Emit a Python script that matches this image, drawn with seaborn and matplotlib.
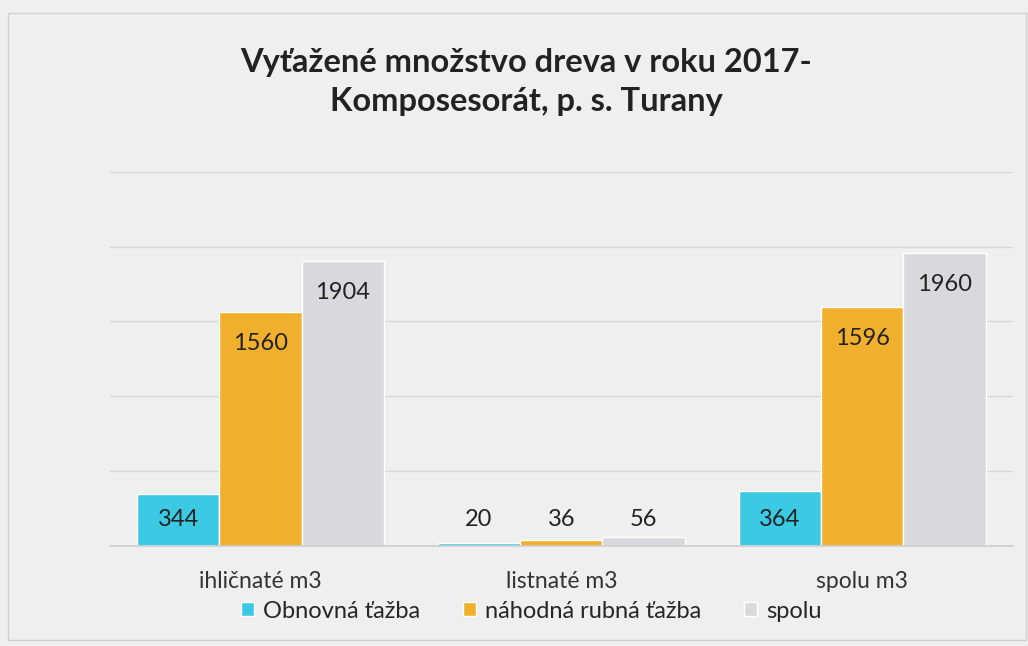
import pandas as pd
import matplotlib.pyplot as plt
import seaborn as sns

# údaje z grafu
kategorie = ['ihličnaté m3', 'listnaté m3', 'spolu m3']
obnovna = [344, 20, 364]
nahodna = [1560, 36, 1596]
spolu = [1904, 56, 1960]
serie = ['Obnovná ťažba', 'náhodná rubná ťažba', 'spolu']

df = pd.DataFrame({
    'kategoria': kategorie * 3,
    'seria': [serie[0]] * 3 + [serie[1]] * 3 + [serie[2]] * 3,
    'hodnota': obnovna + nahodna + spolu,
})

farby = ['#3cc9e4', '#f0b02e', '#d9d9dd']
bg = '#efefef'

sns.set_theme(style='white')
plt.rcParams['font.family'] = ['Lato', 'DejaVu Sans']

fig = plt.figure(figsize=(10.28, 6.46), dpi=100, facecolor=bg)
ax = fig.add_axes([0.107, 0.155, 0.878, 0.579])
ax.set_facecolor(bg)

sns.barplot(data=df, x='kategoria', y='hodnota', hue='seria', palette=farby,
            width=0.82, gap=0.0, ax=ax, saturation=1)

ax.set_ylim(0, 2500)
ax.set_yticks(range(0, 2501, 500))
ax.yaxis.grid(True, color='#d6d6d6', linewidth=1)
ax.set_axisbelow(True)
ax.tick_params(axis='y', left=False, labelleft=False)
ax.tick_params(axis='x', bottom=False, labelsize=16.5, pad=12, colors='#333333')
for s in ['top', 'right', 'left']:
    ax.spines[s].set_visible(False)
ax.spines['bottom'].set_color('#cfcfcf')
ax.set_xlabel('')
ax.set_ylabel('')

# popisky hodnôt
for cont in ax.containers:
    for bar in cont:
        v = bar.get_height()
        y = max(v - 210, 173)
        ax.text(bar.get_x() + bar.get_width() / 2, y, f'{int(v)}',
                ha='center', va='center', fontsize=17, color='#222222')

ax.legend(loc='center', bbox_to_anchor=(0.517, 0.054), bbox_transform=fig.transFigure,
          ncol=3, frameon=False, fontsize=17, handlelength=0.55, handleheight=0.55,
          handletextpad=0.4, columnspacing=1.8)

fig.text(0.512, 0.873, 'Vyťažené množstvo dreva v roku 2017-\nKomposesorát, p. s. Turany',
         ha='center', va='center', fontsize=23.5, fontweight='bold', color='#222222',
         linespacing=1.4)

fig.patches.append(plt.Rectangle((0.008, 0.01), 0.99, 0.97, transform=fig.transFigure,
                                 fill=False, edgecolor='#d0d0d0', linewidth=1))

fig.savefig('out.png', dpi=100, facecolor=bg)
